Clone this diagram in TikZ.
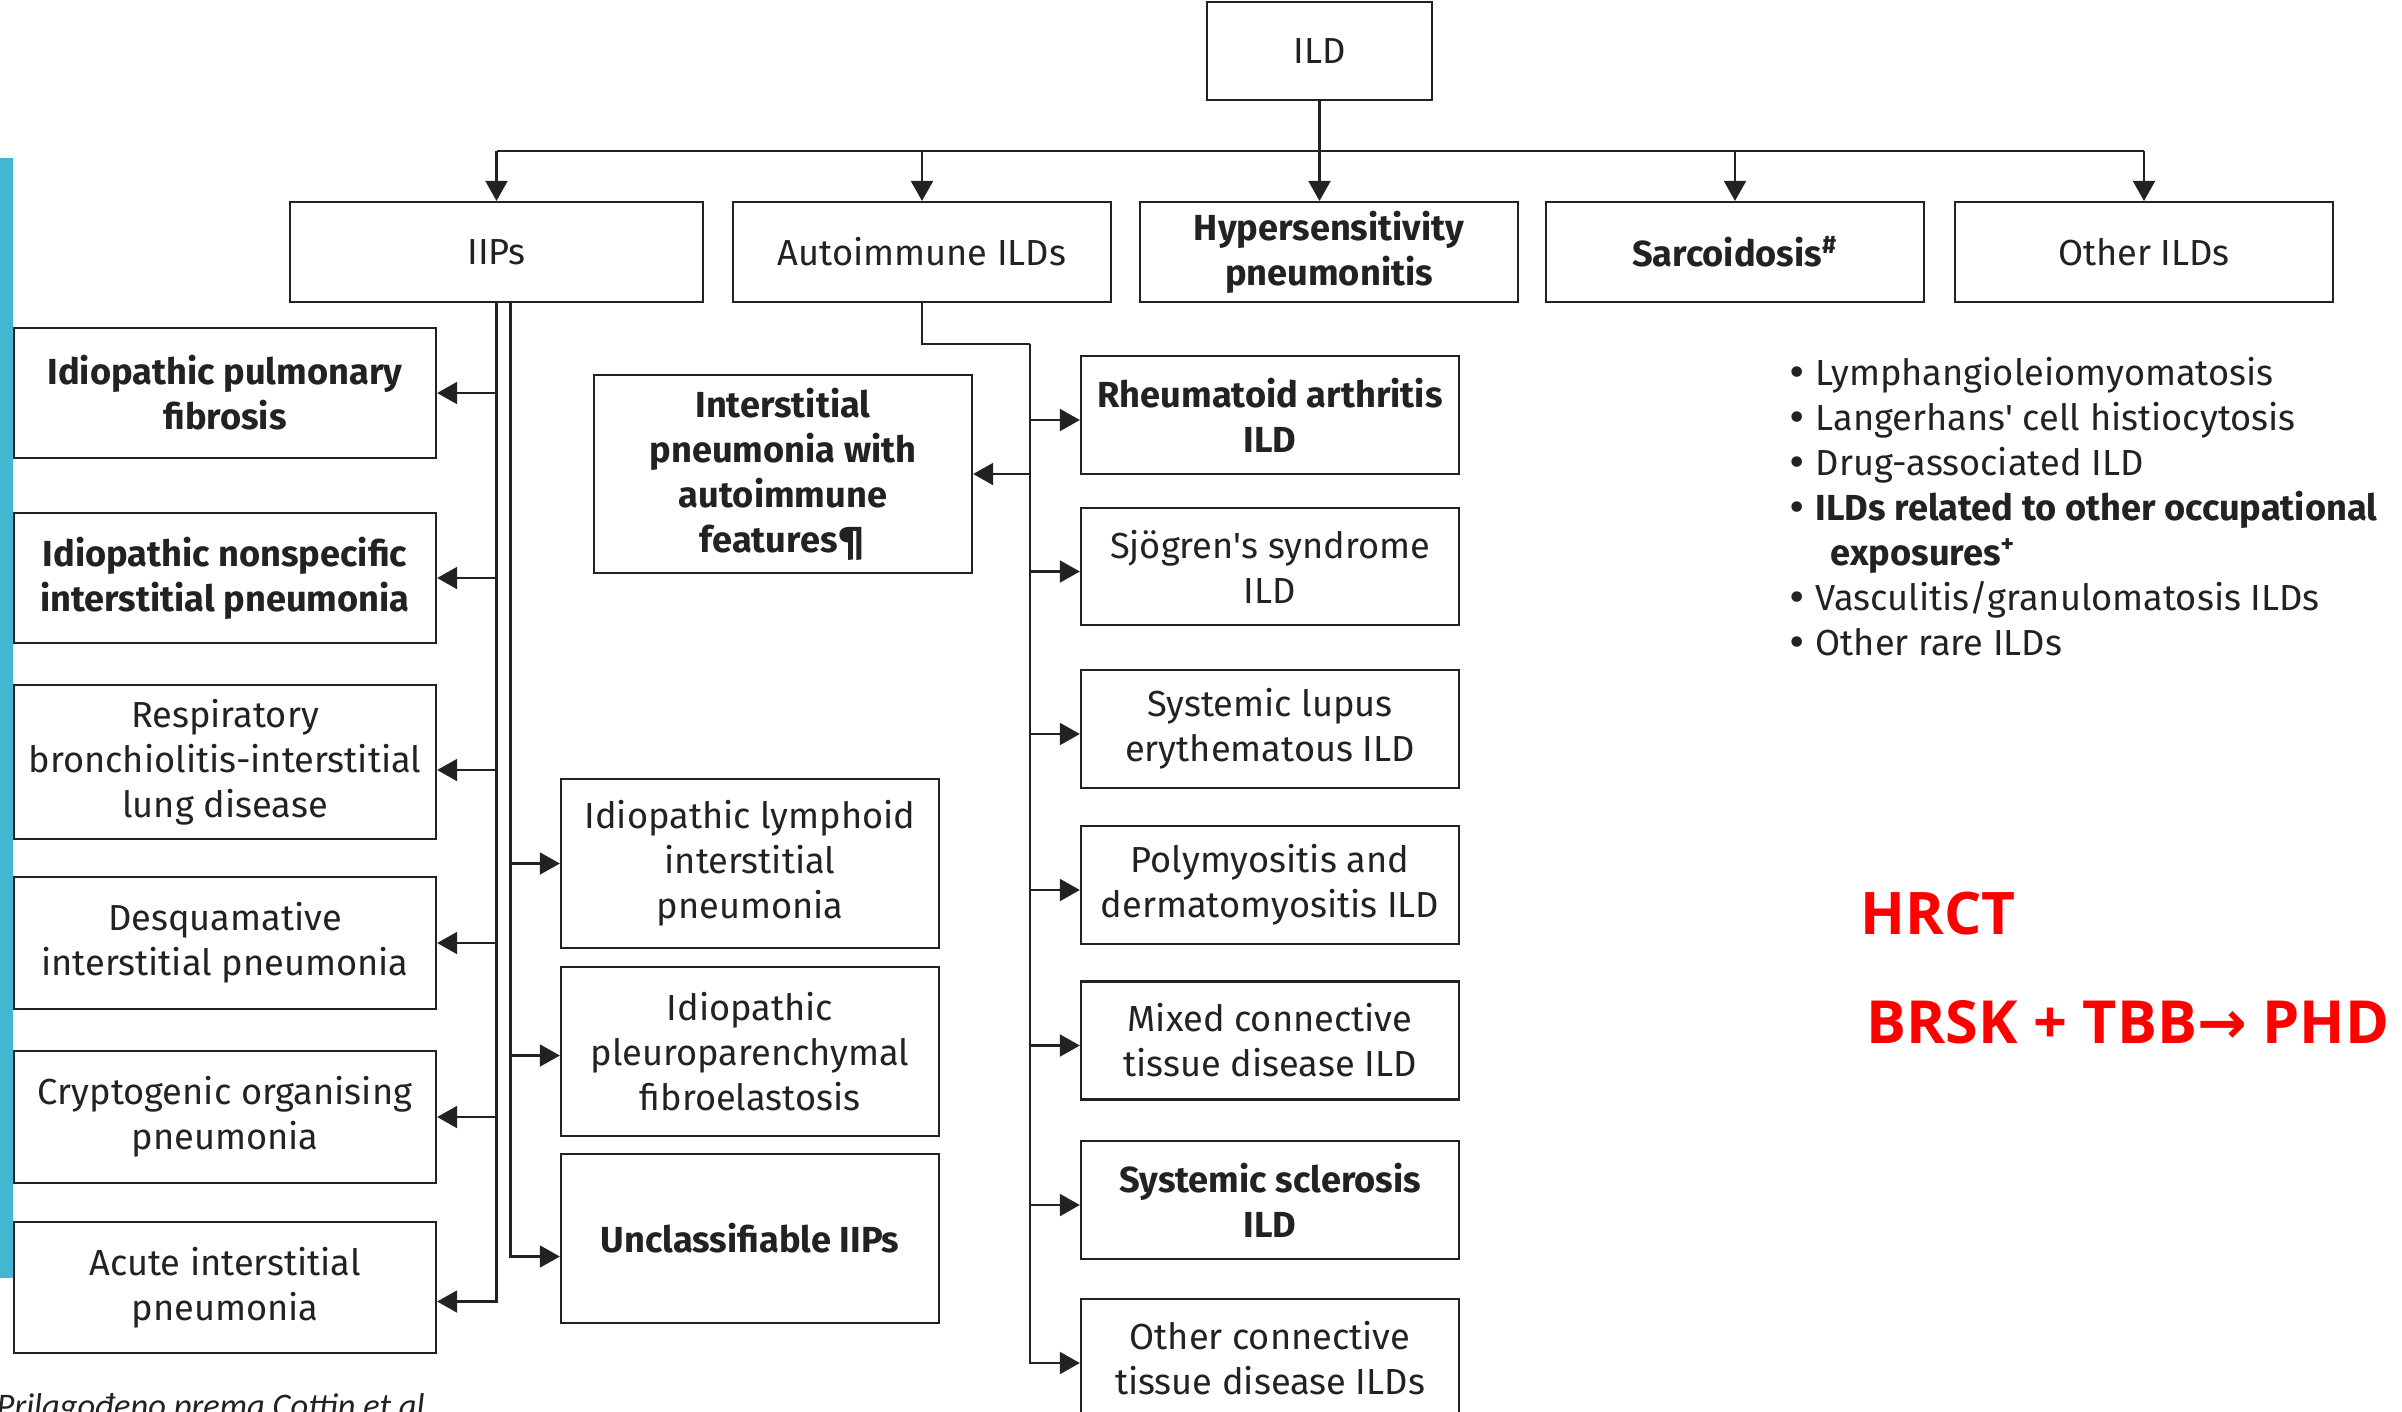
\documentclass[tikz,border=0pt]{standalone}
\usepackage{fontspec}
\setmainfont{Fira Sans}
\newfontfamily\hlfont{Open Sans}
\newfontfamily\notefont{Carlito}
\newfontfamily\symfont{DejaVu Sans}
\usetikzlibrary{arrows.meta}

\definecolor{slide}{RGB}{66,183,208}
\definecolor{ink}  {RGB}{34,34,34}
\definecolor{hl}   {RGB}{255,0,0}

\newcommand\ildfont{\fontsize{10.3}{12.8}\selectfont}
\newcommand\listfont{\fontsize{10.3}{12.8}\selectfont}
\newcommand\dotmark{{\symfont •}}

\tikzset{
  box/.style={draw=ink, line width=0.6pt, text=ink, align=center, inner sep=0pt,
              minimum width=3.78cm, minimum height=1.18cm, font=\ildfont},
  boldbox/.style={box, font=\ildfont\bfseries},
  arr/.style={draw=ink, line width=0.6pt, arrows={-Triangle[length=0.2cm,width=0.22cm]}},
  wire/.style={draw=ink, line width=0.6pt}
}

\begin{document}
\begin{tikzpicture}[x=0.01cm,y=-0.01cm]

    \fill[white] (0,0) rectangle (2402,1411);
    \useasboundingbox (0,0) rectangle (2402,1411);
    \fill[slide] (0,158) rectangle (13,1278);

    % top level
    \node[box, minimum width=2.25cm, minimum height=0.98cm] (ild) at (1319.5,51) {ILD};

    \node[box, minimum width=4.13cm, minimum height=1cm] (iips) at (496.5,252) {IIPs};
    \node[box, minimum height=1cm] (aild) at (922,252) {Autoimmune ILDs};
    \node[boldbox, minimum height=1cm] (hp) at (1329,252) {Hypersensitivity\\pneumonitis};
    \node[boldbox, minimum height=1cm] (sarc) at (1735,252) {Sarcoidosis\textsuperscript{\#}};
    \node[box, minimum height=1cm] (oild) at (2144,252) {Other ILDs};

    % IIPs, left column
    \node[boldbox, minimum width=4.22cm, minimum height=1.30cm] (ipf) at (225,393) {Idiopathic pulmonary\\fibrosis};
    \node[boldbox, minimum width=4.22cm, minimum height=1.30cm] (insip) at (225,578) {Idiopathic nonspecific\\interstitial pneumonia};
    \node[box, minimum width=4.22cm, minimum height=1.54cm] (rbild) at (225,762) {Respiratory\\bronchiolitis-interstitial\\lung disease};
    \node[box, minimum width=4.22cm, minimum height=1.32cm] (dip) at (225,943) {Desquamative\\interstitial pneumonia};
    \node[box, minimum width=4.22cm, minimum height=1.32cm] (cop) at (225,1117) {Cryptogenic organising\\pneumonia};
    \node[box, minimum width=4.22cm, minimum height=1.31cm] (aip) at (225,1287.5) {Acute interstitial\\pneumonia};

    % IIPs, middle column
    \node[box, minimum height=1.69cm] (lip) at (750,863.5) {Idiopathic lymphoid\\interstitial\\pneumonia};
    \node[box, minimum height=1.69cm] (ppfe) at (750,1051.5) {Idiopathic\\pleuroparenchymal\\fibroelastosis};
    \node[boldbox, minimum height=1.69cm] (unip) at (750,1238.5) {Unclassifiable IIPs};

    % autoimmune
    \node[boldbox, minimum height=1.98cm] (ipaf) at (783,474) {Interstitial\\pneumonia with\\autoimmune\\features\P};

    \node[boldbox] (ra) at (1270,415) {Rheumatoid arthritis\\ILD};
    \node[box, minimum height=1.17cm] (sjs) at (1270,566.5) {Sjögren\textquotesingle s syndrome\\ILD};
    \node[box] (sle) at (1270,729) {Systemic lupus\\erythematous ILD};
    \node[box] (pmdm) at (1270,885) {Polymyositis and\\dermatomyositis ILD};
    \node[box] (mctd) at (1270,1040.5) {Mixed connective\\tissue disease ILD};
    \node[boldbox] (ssc) at (1270,1200) {Systemic sclerosis\\ILD};
    \node[box] (octd) at (1270,1358) {Other connective\\tissue disease ILDs};

    % other ILDs
    \node[anchor=north west, inner sep=0pt, text=ink, font=\listfont] (olist) at (1786,353) {%
      \begin{tabular}{@{}p{0.29cm}@{}l@{}}
        \dotmark & Lymphangioleiomyomatosis\\
        \dotmark & Langerhans\textquotesingle\ cell histiocytosis\\
        \dotmark & Drug-associated ILD\\
        \dotmark & \textbf{ILDs related to other occupational}\\
                 & \hspace{0.15cm}\textbf{exposures\textsuperscript{+}}\\
        \dotmark & Vasculitis/granulomatosis ILDs\\
        \dotmark & Other rare ILDs
      \end{tabular}};

    \node[anchor=base west, inner sep=0pt, text=hl, font=\hlfont\bfseries\fontsize{16.7}{20}\selectfont] (hrct) at (1860,934) {HRCT};
    \node[anchor=base west, inner sep=0pt, text=hl, font=\hlfont\bfseries\fontsize{16.9}{20}\selectfont] (brsk) at (1866,1043) {BRSK + TBB{\symfont →} PHD};

    \node[anchor=base west, inner sep=0pt, text=ink, font=\notefont\itshape\fontsize{9.8}{12}\selectfont] (src) at (-4,1417) {Prilagođeno prema Cottin et al.};

    % connectors
    \coordinate (busy) at (0,151);
    \draw[arr] (ild.south) -- (ild.south |- hp.north);
    \draw[wire] (iips.north |- busy) -- (oild.north |- busy);
    \foreach \n in {iips,aild,sarc,oild}
      \draw[arr] (\n.north |- busy) -- (\n.north);

    \foreach \n in {ipf,insip,dip,cop}
      \draw[arr] (iips.south) |- (\n.east);
    \draw[arr] (iips.south) |- ([yshift=-0.08cm]rbild.east);
    \draw[arr] (iips.south) |- ([yshift=-0.14cm]aip.east);

    \coordinate (ib) at ([xshift=0.14cm]iips.south);
    \draw[arr] (ib) |- (lip.west);
    \draw[arr] (ib) |- ([yshift=-0.04cm]ppfe.west);
    \draw[arr] (ib) |- ([yshift=-0.18cm]unip.west);

    \coordinate (aj) at (1030,344);
    \draw[wire] (aild.south) |- (aj);
    \draw[arr] (aj) |- (ipaf.east);
    \foreach \n in {ra,sjs,sle,pmdm,mctd,ssc,octd}
      \draw[arr] (aj) |- ([yshift=-0.05cm]\n.west);

\end{tikzpicture}
\end{document}
